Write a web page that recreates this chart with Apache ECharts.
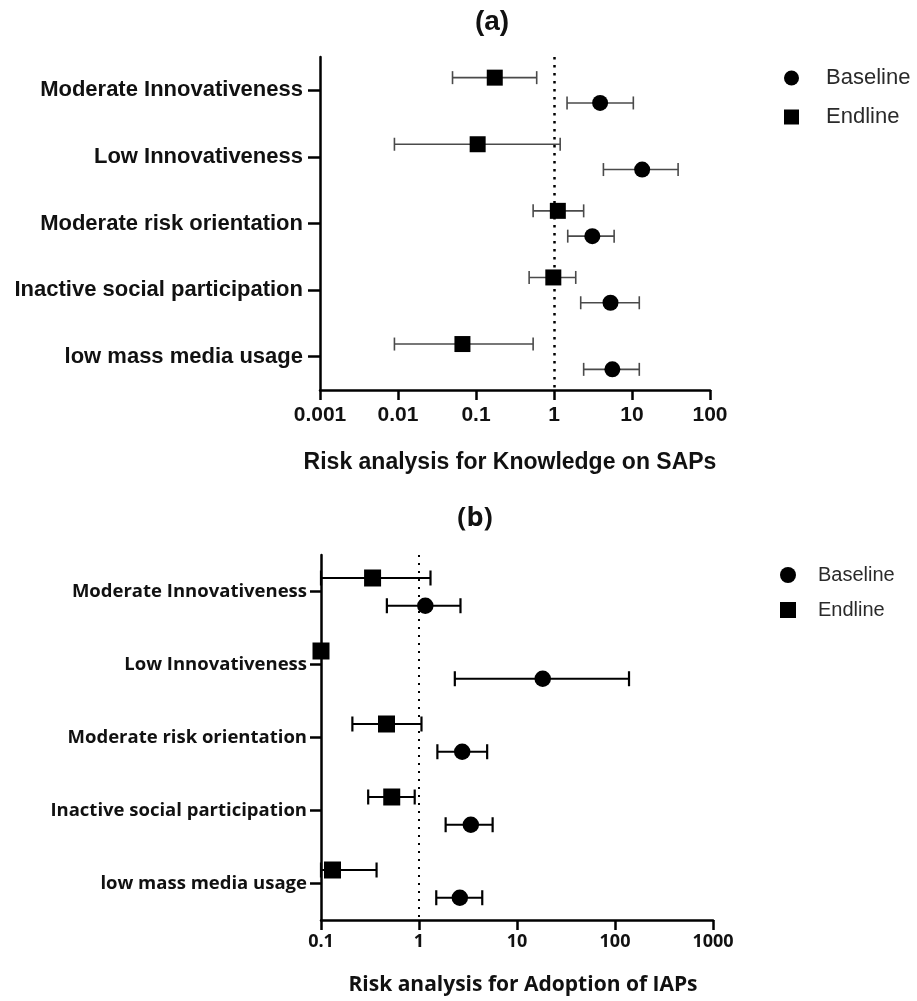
<!DOCTYPE html>
<html>
<head>
<meta charset="utf-8">
<script src="https://cdn.jsdelivr.net/npm/echarts@6/dist/echarts.min.js"></script>
<style>
html,body{margin:0;padding:0;background:#fff;}
#chart{width:917px;height:1001px;}
</style>
</head>
<body>
<div id="chart"></div>
<script>
const categories = ['Moderate Innovativeness','Low Innovativeness','Moderate risk orientation','Inactive social participation','low mass media usage'];
const seriesNames = ['Baseline','Endline'];

// Panel (a): Risk analysis for Knowledge on SAPs
const aBaseMid  = [3.9, 13.5, 3.1, 5.3, 5.6];
const aBaseLow  = [1.47, 4.3, 1.5, 2.2, 2.4];
const aBaseHigh = [10.4, 39, 5.9, 12.4, 12.4];
const aEndMid   = [0.174, 0.105, 1.12, 0.98, 0.067];
const aEndLow   = [0.05, 0.009, 0.54, 0.48, 0.009];
const aEndHigh  = [0.6, 1.2, 2.4, 1.9, 0.54];
const aTicks    = ['0.001','0.01','0.1','1','10','100'];

// Panel (b): Risk analysis for Adoption of IAPs
const bBaseMid  = [1.16, 18.3, 2.76, 3.38, 2.61];
const bBaseLow  = [0.47, 2.32, 1.54, 1.87, 1.50];
const bBaseHigh = [2.65, 139, 4.96, 5.64, 4.42];
const bEndMid   = [0.336, 0.1, 0.466, 0.527, 0.131];
const bEndLow   = [0.1, null, 0.209, 0.303, 0.1];
const bEndHigh  = [1.31, null, 1.06, 0.904, 0.369];
const bTicks    = ['0.1','1','10','100','1000'];

function rows(mid, lo, hi) {
  return categories.map((c, i) => [i, mid[i], lo[i], hi[i]]);
}

function makeRender(offsetFrac, shape, size, lineColor, lineW, capH) {
  return function (params, api) {
    const ci = api.value(0), mid = api.value(1), lo = api.value(2), hi = api.value(3);
    const band = api.size([0, 1], [1, 0])[1];
    const p = api.coord([mid, ci]);
    const y = p[1] + offsetFrac * band;
    const children = [];
    if (isFinite(lo) && isFinite(hi) && lo > 0 && hi > 0) {
      const xl = api.coord([lo, ci])[0];
      const xh = api.coord([hi, ci])[0];
      const ls = { stroke: lineColor, lineWidth: lineW };
      children.push({ type: 'line', shape: { x1: xl, y1: y, x2: xh, y2: y }, style: ls });
      children.push({ type: 'line', shape: { x1: xl, y1: y - capH / 2, x2: xl, y2: y + capH / 2 }, style: ls });
      children.push({ type: 'line', shape: { x1: xh, y1: y - capH / 2, x2: xh, y2: y + capH / 2 }, style: ls });
    }
    if (shape === 'circle') {
      children.push({ type: 'circle', shape: { cx: p[0], cy: y, r: size / 2 }, style: { fill: '#000' } });
    } else {
      children.push({ type: 'rect', shape: { x: p[0] - size / 2, y: y - size / 2, width: size, height: size }, style: { fill: '#000' } });
    }
    return { type: 'group', children: children };
  };
}

const fontA = '"Liberation Sans", Arial, sans-serif';
const fontB = '"Open Sans", "Noto Sans", sans-serif';

const chart = echarts.init(document.getElementById('chart'), null, { renderer: 'canvas' });

function xAxisCfg(grid, min, max, ticks, offset, font, size, margin) {
  return {
    type: 'log', gridIndex: grid, logBase: 10, min: min, max: max,
    axisLine: { show: true, lineStyle: { color: '#000', width: 2.5 } },
    axisTick: { show: true, length: 10, lineStyle: { color: '#000', width: 2.5 } },
    minorTick: { show: false }, splitLine: { show: false },
    axisLabel: { show: true, margin: margin, fontFamily: font, fontWeight: 'bold', fontSize: size, color: '#111',
      formatter: v => ticks[Math.round(Math.log10(v)) + offset] }
  };
}
function yAxisCfg(grid, tickLen, margin, font, size) {
  return {
    type: 'category', gridIndex: grid, data: categories, inverse: true,
    axisLine: { show: true, lineStyle: { color: '#000', width: 2.5 } },
    axisTick: { show: true, alignWithLabel: true, length: tickLen, lineStyle: { color: '#000', width: 2.5 } },
    splitLine: { show: false },
    axisLabel: { show: true, margin: margin, fontFamily: font, fontWeight: 'bold', fontSize: size, color: '#111' }
  };
}

const option = {
  backgroundColor: '#fff',
  animation: false,
  title: [
    { text: '(a)', left: 487, top: 3, textAlign: 'center',
      textStyle: { fontFamily: fontA, fontWeight: 'bold', fontSize: 28, color: '#111' } },
    { text: 'Risk analysis for Knowledge on SAPs', left: 505, top: 446, textAlign: 'center',
      textStyle: { fontFamily: fontA, fontWeight: 'bold', fontSize: 23, color: '#111' } },
    { text: '(b)', left: 470, top: 500, textAlign: 'center',
      textStyle: { fontFamily: fontB, fontWeight: 'bold', fontSize: 27, color: '#111' } },
    { text: 'Risk analysis for Adoption of IAPs', left: 518, top: 970, textAlign: 'center',
      textStyle: { fontFamily: fontB, fontWeight: 'bold', fontSize: 21, color: '#111' } }
  ],
  legend: [
    { orient: 'vertical', left: 784, top: 67, padding: 0, itemWidth: 15, itemHeight: 15, itemGap: 17,
      data: [{ name: 'Baseline', icon: 'circle' }, { name: 'Endline', icon: 'rect' }],
      textStyle: { fontFamily: fontA, fontSize: 22, lineHeight: 22, color: '#2a2a2a', padding: [0, 0, 0, 22] } },
    { orient: 'vertical', left: 780, top: 565, padding: 0, itemWidth: 16, itemHeight: 16, itemGap: 15,
      data: [{ name: 'Baseline', icon: 'circle' }, { name: 'Endline', icon: 'rect' }],
      textStyle: { fontFamily: fontA, fontSize: 20, lineHeight: 20, color: '#2a2a2a', padding: [0, 0, 0, 17] } }
  ],
  grid: [
    { left: 320, top: 57, width: 390, height: 333 },
    { left: 321, top: 555, width: 392, height: 365 }
  ],
  xAxis: [
    xAxisCfg(0, 0.001, 100, aTicks, 3, fontA, 21, 15),
    xAxisCfg(1, 0.1, 1000, bTicks, 1, fontB, 18, 13)
  ],
  yAxis: [
    yAxisCfg(0, 12, 17, fontA, 22),
    yAxisCfg(1, 11, 14, fontB, 18.5)
  ],
  series: [
    { name: 'Endline', type: 'custom', xAxisIndex: 0, yAxisIndex: 0, z: 3,
      itemStyle: { color: '#000' },
      encode: { x: 1, y: 0 },
      renderItem: makeRender(-0.19, 'rect', 16, '#4a4a4a', 1.6, 13),
      data: rows(aEndMid, aEndLow, aEndHigh),
      markLine: { silent: true, symbol: 'none', z: 1, label: { show: false },
        lineStyle: { color: '#000', width: 2.5, type: [2.5, 5.5] },
        data: [{ xAxis: 1 }] } },
    { name: 'Baseline', type: 'custom', xAxisIndex: 0, yAxisIndex: 0, z: 3,
      itemStyle: { color: '#000' },
      encode: { x: 1, y: 0 },
      renderItem: makeRender(0.19, 'circle', 16, '#4a4a4a', 1.6, 13),
      data: rows(aBaseMid, aBaseLow, aBaseHigh) },
    { name: 'Endline', type: 'custom', xAxisIndex: 1, yAxisIndex: 1, z: 3,
      itemStyle: { color: '#000' },
      encode: { x: 1, y: 0 },
      renderItem: makeRender(-0.185, 'rect', 17, '#000', 2.2, 15),
      data: rows(bEndMid, bEndLow, bEndHigh),
      markLine: { silent: true, symbol: 'none', z: 1, label: { show: false },
        lineStyle: { color: '#000', width: 2, type: [2, 6] },
        data: [{ xAxis: 1 }] } },
    { name: 'Baseline', type: 'custom', xAxisIndex: 1, yAxisIndex: 1, z: 3,
      itemStyle: { color: '#000' },
      encode: { x: 1, y: 0 },
      renderItem: makeRender(0.195, 'circle', 16.5, '#000', 2.2, 15),
      data: rows(bBaseMid, bBaseLow, bBaseHigh) }
  ]
};
chart.setOption(option);
</script>
</body>
</html>
